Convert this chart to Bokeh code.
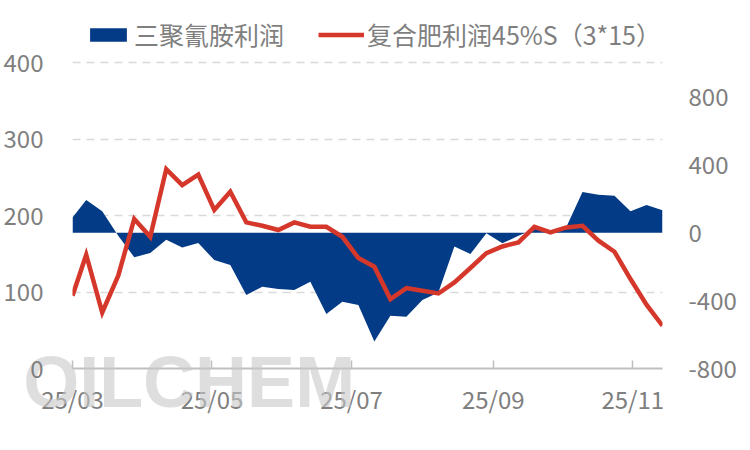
import pandas as pd
from bokeh.plotting import figure
from bokeh.models import (Range1d, LinearAxis, FixedTicker, Legend, LegendItem)
from bokeh.embed import file_html
from bokeh.resources import INLINE

# ---- data ----
dates = ["2025-03-01", "2025-03-07", "2025-03-14", "2025-03-21", "2025-03-28",
         "2025-04-04", "2025-04-11", "2025-04-18", "2025-04-25", "2025-05-02",
         "2025-05-09", "2025-05-16", "2025-05-23", "2025-05-30", "2025-06-06",
         "2025-06-13", "2025-06-20", "2025-06-27", "2025-07-04", "2025-07-11",
         "2025-07-18", "2025-07-25", "2025-08-01", "2025-08-08", "2025-08-15",
         "2025-08-22", "2025-08-29", "2025-09-05", "2025-09-12", "2025-09-19",
         "2025-09-26", "2025-10-03", "2025-10-10", "2025-10-17", "2025-10-24",
         "2025-10-31", "2025-11-07", "2025-11-14"]
melamine_profit = [90, 193, 127, -18, -144, -120, -41, -87, -61, -161,
                   -190, -367, -318, -332, -338, -289, -479, -407, -426, -641,
                   -489, -495, -397, -352, -81, -126, -3, -62, -18, 22,
                   12, 35, 240, 224, 218, 127, 164, 132]
compound_profit = [-371, -130, -470, -253, 81, -24, 375, 281, 342, 134,
                   242, 61, 41, 16, 61, 35, 35, -24, -149, -200,
                   -391, -326, -342, -358, -293, -208, -120, -81, -57, 35,
                   2, 31, 41, -47, -112, -273, -424, -548]
series_names = ["三聚氰胺利润", "复合肥利润45%S（3*15）"]
x_tick_dates = ["2025-03-01", "2025-05-01", "2025-07-01", "2025-09-01", "2025-11-01"]
x_tick_labels = ["25/03", "25/05", "25/07", "25/09", "25/11"]
left_ticks = [0, 100, 200, 300, 400]
right_ticks = [-800, -400, 0, 400, 800]
right_tick_labels = ["-800", "-400", "0", "400", "800"]
x_end_date = "2025-11-14"
watermark = "OILCHEM"

origin = pd.Timestamp(dates[0])
def day(d):
    return (pd.Timestamp(d) - origin).days

xs = [day(d) for d in dates]
xt = [day(d) for d in x_tick_dates]

BLUE = "#043B87"
RED = "#D5372B"
GRAY = "#7f7f7f"
FONT = "Noto Sans CJK SC"

# left axis 0..400 and right axis -800..1000 share the plot height;
# the frame is extended upward so the legend sits inside it
left_top = 463.5
right_bottom = -800
right_top = right_bottom + 4.5 * left_top

p = figure(frame_width=590, frame_height=354, output_backend="svg", toolbar_location=None,
           x_range=Range1d(0, day(x_end_date)), y_range=Range1d(0, left_top),
           min_border_left=65, min_border_right=60, min_border_top=14,
           min_border_bottom=74, outline_line_color=None)
p.extra_y_ranges = {"right": Range1d(right_bottom, right_top)}

area = p.varea(x=xs, y1=[0] * len(xs), y2=melamine_profit, y_range_name="right",
               fill_color=BLUE)
line = p.line(x=xs, y=compound_profit, y_range_name="right", line_color=RED,
              line_width=4.5, line_join="miter")

# x axis
xa = p.xaxis[0]
xa.ticker = FixedTicker(ticks=xt)
xa.major_label_overrides = {t: l for t, l in zip(xt, x_tick_labels)}
xa.axis_line_color = "#bfbfbf"
xa.axis_line_width = 2
xa.major_tick_in = 8
xa.major_tick_out = 0
xa.major_tick_line_color = "#bfbfbf"
xa.major_tick_line_width = 1.5
xa.minor_tick_line_color = None
xa.major_label_standoff = 12
xa.major_label_text_font = FONT
xa.major_label_text_font_size = "24px"
xa.major_label_text_color = GRAY

# watermark drawn as the single label of an extra, line-less bottom axis
wm_day = 51
wm_axis = LinearAxis(ticker=FixedTicker(ticks=[wm_day]))
wm_axis.major_label_overrides = {wm_day: watermark}
wm_axis.axis_line_color = None
wm_axis.major_tick_line_color = None
wm_axis.minor_tick_line_color = None
wm_axis.major_tick_in = 0
wm_axis.major_tick_out = 0
wm_axis.major_label_standoff = -77
wm_axis.major_label_text_font = "Liberation Sans"
wm_axis.major_label_text_font_style = "bold"
wm_axis.major_label_text_font_size = "72px"
wm_axis.major_label_text_color = "#c8c8c8"
wm_axis.major_label_text_alpha = 0.6
p.add_layout(wm_axis, "below")

# left axis
ya = p.yaxis[0]
ya.ticker = FixedTicker(ticks=left_ticks)
ya.axis_line_color = None
ya.major_tick_line_color = None
ya.minor_tick_line_color = None
ya.major_label_standoff = 23
ya.major_label_text_font = FONT
ya.major_label_text_font_size = "24px"
ya.major_label_text_color = GRAY

# right axis
ra = LinearAxis(y_range_name="right", ticker=FixedTicker(ticks=right_ticks))
ra.major_label_overrides = {t: l for t, l in zip(right_ticks, right_tick_labels)}
ra.axis_line_color = None
ra.major_tick_line_color = None
ra.minor_tick_line_color = None
ra.major_label_standoff = 20
ra.major_label_text_font = FONT
ra.major_label_text_font_size = "24px"
ra.major_label_text_color = GRAY
p.add_layout(ra, "right")

# grid
p.xgrid.visible = False
p.ygrid.ticker = FixedTicker(ticks=left_ticks[1:])
p.ygrid.grid_line_color = "#d9d9d9"
p.ygrid.grid_line_dash = "8 6"
p.ygrid.grid_line_width = 1.5

legend = Legend(items=[LegendItem(label=series_names[0], renderers=[area]),
                       LegendItem(label=series_names[1], renderers=[line])],
                orientation="horizontal", location=(13, 316),
                border_line_color=None, background_fill_alpha=0,
                label_text_font=FONT, label_text_font_size="25px",
                label_text_color=GRAY, glyph_width=46, glyph_height=17,
                label_standoff=3, spacing=34, padding=0, margin=0)
p.add_layout(legend, "center")

open("out.html", "w").write(file_html(p, INLINE))
